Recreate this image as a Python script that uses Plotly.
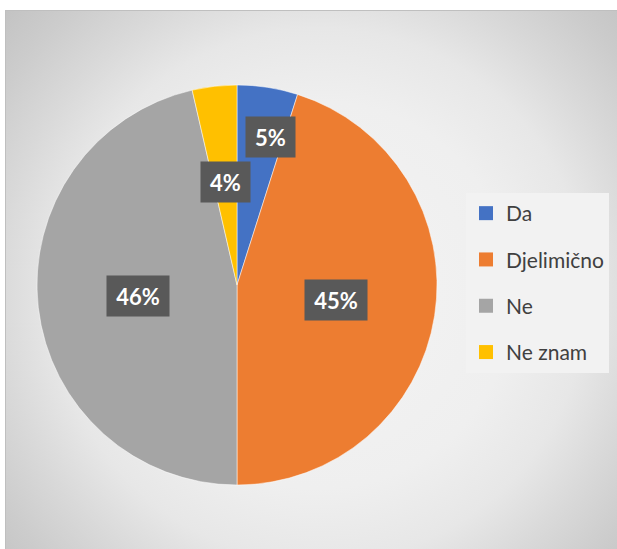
import math
import plotly.graph_objects as go

# ---- data ----
categories = ["Da", "Djelimično", "Ne", "Ne znam"]
values = [4.9, 45.1, 46.4, 3.6]
colors = ["#4472C4", "#ED7D31", "#A5A5A5", "#FFC000"]

# ---- layout constants (pixels) ----
W, H = 617, 549
pie_left, pie_top, pie_size = 37, 85, 400
label_r = [0.76, 0.5, 0.5, 0.52]
label_dang = [4, 0, 0, 0]  # degrees

total = sum(values)
pct_labels = [f"{round(v / total * 100)}%" for v in values]

fig = go.Figure()

# background radial gradient (chart area)
cx, cy, R = 320, 295, 430
fig.add_trace(go.Scatter(
    x=[cx - R, cx + R, cx + R, cx - R, cx - R],
    y=[cy - R, cy - R, cy + R, cy + R, cy - R],
    mode="lines", line=dict(width=0), fill="toself",
    fillgradient=dict(type="radial", colorscale=[
        [0, "#f4f4f4"], [0.45, "#efefef"], [0.62, "#e7e7e7"],
        [0.75, "#d9d9d9"], [0.88, "#cccccc"], [1, "#c2c2c2"]]),
    hoverinfo="skip", showlegend=False,
))

# legend entries
for cat, col in zip(categories, colors):
    fig.add_trace(go.Scatter(
        x=[None], y=[None], mode="markers", name=cat, legendgroup=cat,
        marker=dict(symbol="square", size=14, color=col), showlegend=True,
    ))

fig.add_trace(go.Pie(
    labels=categories, values=values, sort=False, direction="clockwise",
    rotation=0, marker=dict(colors=colors, line=dict(color="#ffffff", width=0.5)),
    textinfo="none", hoverinfo="label+percent", showlegend=False,
    domain=dict(x=[pie_left / W, (pie_left + pie_size) / W],
                y=[1 - (pie_top + pie_size) / H, 1 - pie_top / H]),
))

# data labels in boxes
pcx = pie_left + pie_size / 2
pcy = pie_top + pie_size / 2
rad = pie_size / 2
cum = 0
for v, lab, rf, da in zip(values, pct_labels, label_r, label_dang):
    mid = (cum + v / 2) / total * 2 * math.pi + math.radians(da)
    cum += v
    px = pcx + rf * rad * math.sin(mid)
    py = pcy - rf * rad * math.cos(mid)
    fig.add_annotation(
        x=px / W, y=1 - py / H, xref="paper", yref="paper",
        text=f"<b>{lab}</b>", showarrow=False,
        font=dict(family="Lato", size=22, color="#ffffff"),
        bgcolor="#595959", borderpad=4,
        width=13 * (len(lab) - 1) + 28, height=32,
        xanchor="center", yanchor="middle",
    )

fig.update_layout(
    width=W, height=H,
    margin=dict(l=0, r=0, t=0, b=0, pad=0, autoexpand=False),
    paper_bgcolor="#ffffff", plot_bgcolor="rgba(0,0,0,0)",
    xaxis=dict(domain=[6 / W, 1], range=[6, W], visible=True, showgrid=False,
               zeroline=False, showticklabels=False, ticks="", side="top",
               automargin=False,
               showline=True, linecolor="#bfbfbf", linewidth=1, fixedrange=True),
    yaxis=dict(domain=[0, 1 - 11 / H], range=[H, 11], showgrid=False,
               zeroline=False, showticklabels=False, ticks="", automargin=False,
               showline=True, linecolor="#bfbfbf", linewidth=1, fixedrange=True),
    legend=dict(x=466 / W, xanchor="left", y=1 - 193 / H, yanchor="top",
                bgcolor="#f2f2f2", borderwidth=0, traceorder="grouped",
                tracegroupgap=16, font=dict(family="Lato", size=21, color="#404040")),
    showlegend=True,
)

fig.write_html("out.html", post_script="document.body.style.margin='0px';",
               config={"displayModeBar": False})
